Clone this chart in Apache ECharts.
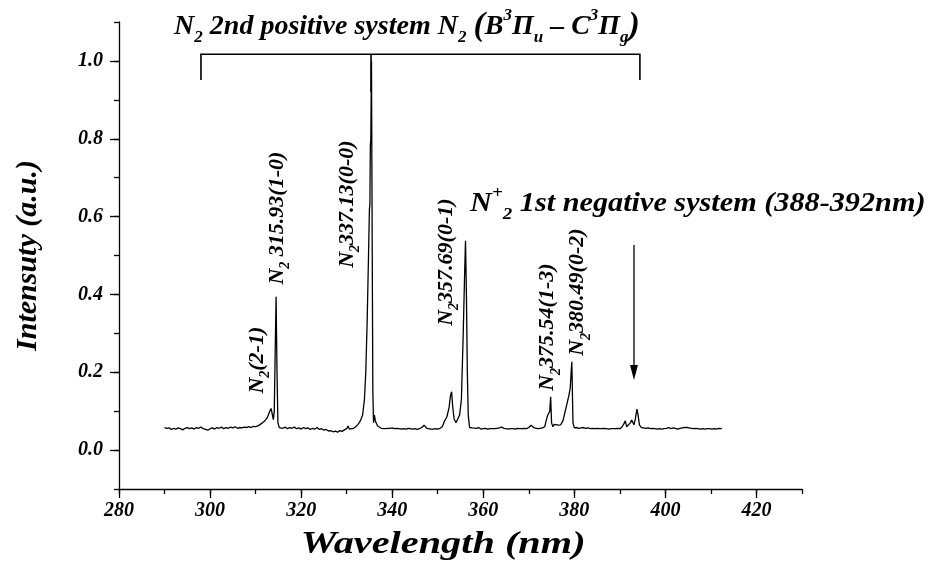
<!DOCTYPE html>
<html><head><meta charset="utf-8">
<script src="https://cdn.jsdelivr.net/npm/echarts@6/dist/echarts.min.js"></script>
<style>html,body{margin:0;padding:0;background:#fff}#c{width:933px;height:583px}</style>
</head><body><div id="c"></div>
<script>
// ---- data ----
const wavelengths = [
290.0,290.5,291.0,291.5,292.0,292.5,293.0,293.5,294.0,294.5,295.0,295.5,296.0,296.5,297.0,297.5,298.0,298.5,299.0,299.5,
300.0,300.5,301.0,301.5,302.0,302.5,303.0,303.5,304.0,304.5,305.0,305.5,306.0,306.5,307.0,307.5,308.0,308.5,309.0,309.5,
310.0,310.5,311.0,311.5,312.0,312.5,312.8,313.1,313.4,313.7,313.9,314.1,314.3,314.5,314.7,314.9,315.2,315.5,316.0,316.5,
317.0,317.5,318.0,318.5,319.0,319.5,320.0,320.5,321.0,321.5,322.0,322.5,323.0,323.5,324.0,324.5,325.0,325.5,326.0,326.5,
327.0,327.5,328.0,328.5,329.0,329.5,330.0,330.3,330.6,331.0,331.5,332.0,332.5,333.0,333.5,333.9,334.2,334.5,334.8,335.0,
335.1,335.2,335.3,335.45,335.6,335.75,335.9,336.1,336.3,336.5,336.8,337.2,337.6,338.0,338.5,339.0,339.5,340.0,340.5,341.0,
341.5,342.0,342.5,343.0,343.5,344.0,344.5,345.0,345.5,346.0,346.5,347.0,347.3,347.6,348.0,348.5,349.0,349.5,350.0,350.5,
351.0,351.5,352.0,352.5,352.8,353.05,353.3,353.6,354.0,354.4,354.8,355.2,355.6,355.9,356.1,356.3,356.5,356.7,357.0,357.3,
357.6,358.0,358.5,359.0,359.5,360.0,360.5,361.0,361.5,362.0,362.5,363.0,363.5,364.0,364.5,365.0,365.5,366.0,366.5,367.0,
367.5,368.0,368.5,369.0,369.5,370.0,370.5,370.8,371.2,371.5,372.0,372.5,373.0,373.5,373.8,374.1,374.4,374.6,374.8,375.0,
375.3,375.6,376.0,376.5,377.0,377.5,378.0,378.4,378.8,379.1,379.3,379.45,379.7,380.0,380.5,381.0,381.5,382.0,382.5,383.0,
383.5,384.0,384.5,385.0,385.5,386.0,386.5,387.0,387.5,388.0,388.5,389.0,389.5,390.0,390.5,390.9,391.2,391.5,391.9,392.3,
392.6,392.9,393.1,393.4,393.75,394.0,394.3,394.7,395.2,395.7,396.2,396.7,397.2,397.7,398.2,398.7,399.2,399.7,400.2,400.7,
401.2,401.7,402.2,402.7,403.2,403.7,404.2,404.7,405.2,405.7,406.2,406.7,407.2,407.7,408.2,408.7,409.2,409.7,410.2,410.7,
411.2,411.7,412.0,412.4
];
const intensities = [
0.058,0.056,0.057,0.053,0.056,0.054,0.057,0.055,0.052,0.056,0.058,0.055,0.057,0.054,0.058,0.056,0.059,0.055,0.053,0.051,
0.055,0.057,0.054,0.058,0.056,0.059,0.055,0.058,0.056,0.059,0.057,0.060,0.056,0.058,0.057,0.059,0.058,0.060,0.058,0.061,
0.060,0.062,0.066,0.070,0.075,0.082,0.090,0.100,0.107,0.090,0.078,0.100,0.250,0.394,0.200,0.070,0.058,0.062,0.056,0.059,
0.055,0.058,0.056,0.059,0.055,0.057,0.054,0.058,0.055,0.057,0.053,0.056,0.054,0.058,0.053,0.055,0.051,0.053,0.049,0.050,
0.047,0.049,0.046,0.050,0.048,0.052,0.055,0.062,0.054,0.058,0.056,0.060,0.066,0.075,0.090,0.130,0.200,0.330,0.500,0.620,
0.630,0.780,0.800,1.000,0.550,0.150,0.070,0.090,0.075,0.080,0.062,0.058,0.056,0.057,0.055,0.056,0.056,0.057,0.055,0.056,
0.055,0.054,0.055,0.054,0.056,0.055,0.054,0.055,0.053,0.055,0.058,0.064,0.062,0.056,0.055,0.054,0.054,0.055,0.054,0.056,
0.060,0.075,0.085,0.110,0.140,0.150,0.110,0.080,0.070,0.075,0.090,0.130,0.300,0.450,0.538,0.400,0.200,0.090,0.058,0.062,
0.057,0.060,0.056,0.058,0.054,0.055,0.056,0.054,0.055,0.055,0.055,0.056,0.057,0.059,0.056,0.055,0.054,0.055,0.055,0.054,
0.056,0.055,0.055,0.056,0.055,0.058,0.064,0.060,0.057,0.056,0.055,0.056,0.057,0.060,0.075,0.088,0.085,0.100,0.137,0.070,
0.060,0.066,0.062,0.064,0.065,0.075,0.100,0.120,0.140,0.160,0.200,0.227,0.070,0.057,0.058,0.056,0.057,0.058,0.056,0.057,
0.055,0.056,0.055,0.056,0.055,0.055,0.056,0.055,0.054,0.055,0.055,0.055,0.056,0.055,0.060,0.068,0.075,0.060,0.062,0.070,
0.077,0.080,0.065,0.080,0.105,0.090,0.065,0.058,0.057,0.056,0.057,0.055,0.056,0.055,0.054,0.055,0.054,0.055,0.056,0.058,
0.055,0.057,0.056,0.054,0.056,0.057,0.058,0.058,0.057,0.056,0.055,0.056,0.055,0.054,0.055,0.054,0.055,0.055,0.054,0.055,
0.054,0.056,0.058,0.055
];
const xTickLabels = [280, 300, 320, 340, 360, 380, 400, 420];
const yTickLabels = [0.0, 0.2, 0.4, 0.6, 0.8, 1.0];

// annotations (anchored in data coordinates)
const peakLabelTexts = [
  '{t|N}{sub|2}{t|(2-1)}',
  '{t|N}{sub|2}{t| 315.93(1-0)}',
  '{t|N}{sub|2}{t|337.13(0-0)}',
  '{t|N}{sub|2}{t|357.69(0-1)}',
  '{t|N}{sub|2}{t|375.54(1-3)}',
  '{t|N}{sub|2}{t|380.49(0-2)}'
];
const peakLabelWl  = [310.3, 314.7, 330.1, 351.8, 374.1, 380.7];
const peakLabelVal = [0.231, 0.596, 0.632, 0.483, 0.316, 0.406];
const titleText = '{t|N}{sub|2}{t| 2nd positive system N}{sub|2}{t| }{p|(}{t|B}{sup|3}{t|Π}{sub|u}{t| – C}{sup|3}{t|Π}{sub|g}{p|)}';
const titleAnchor = [292.1, 1.089];
const negText = '{t|N}{sup|+}{sub|2}{t| 1st negative system (388-392nm)}';
const negAnchor = [357.1, 0.632];
const xTitle = 'Wavelength (nm)';
const xTitleAnchor = [351.2, -0.244];
const arrowWl = 393.1, arrowTop = 0.527, arrowTip = 0.18;
const bracketWl = [298.0, 335.35, 394.4];
const bracketTop = 1.017, bracketSide = 0.951, bracketMid = 0.92;

// ---- chart ----
const FONT = "'Liberation Serif','Times New Roman',serif";
const chart = echarts.init(document.getElementById('c'));
const lblStyle = {fontFamily: FONT, fontWeight: 'bold', fontStyle: 'italic', color: '#000'};
const near = (arr, v) => arr.some(a => Math.abs(a - v) < 1e-6);

chart.setOption({
  animation: false,
  backgroundColor: '#fff',
  grid: {left: 119, right: 131, top: 22, bottom: 94},
  xAxis: [{
    type: 'value', min: 280, max: 430, interval: 10,
    axisLine: {onZero: false, lineStyle: {color: '#000', width: 1.3}},
    axisTick: {length: 5, lineStyle: {color: '#000', width: 1.3}},
    splitLine: {show: false},
    axisLabel: Object.assign({fontSize: 20, margin: 12,
      formatter: v => near(xTickLabels, v) ? String(v) : ''}, lblStyle)
  }, {
    type: 'value', min: 280, max: 430, interval: 10, position: 'bottom',
    axisLine: {show: false, onZero: false},
    axisTick: {length: 9, customValues: xTickLabels, lineStyle: {color: '#000', width: 1.3}},
    axisLabel: {show: false}, splitLine: {show: false}
  }],
  yAxis: [{
    type: 'value', min: -0.1, max: 1.1, interval: 0.1,
    axisLine: {show: true, onZero: false, lineStyle: {color: '#000', width: 1.3}},
    axisTick: {show: true, length: 5, lineStyle: {color: '#000', width: 1.3}},
    splitLine: {show: false},
    axisLabel: Object.assign({fontSize: 20, margin: 16,
      formatter: v => near(yTickLabels, v) ? v.toFixed(1) : ''}, lblStyle),
    name: 'Intensuty (a.u.)', nameLocation: 'middle', nameGap: 76, nameRotate: 90,
    nameTextStyle: Object.assign({fontSize: 30}, lblStyle)
  }, {
    type: 'value', min: -0.1, max: 1.1, interval: 0.1, position: 'left',
    axisLine: {show: false, onZero: false},
    axisTick: {show: true, length: 9, customValues: yTickLabels, lineStyle: {color: '#000', width: 1.3}},
    axisLabel: {show: false}, splitLine: {show: false}
  }],
  series: [{
    type: 'line', xAxisIndex: 0, yAxisIndex: 0,
    data: wavelengths.map((w, i) => [w, intensities[i]]),
    showSymbol: false, symbol: 'none',
    lineStyle: {color: '#000', width: 1.3}
  }]
});

function rich(size) {
  const base = {fontFamily: FONT, fontWeight: 'bold', fontStyle: 'italic', fill: '#000'};
  return {
    t: Object.assign({fontSize: size, lineHeight: Math.round(size * 1.4)}, base),
    sub: Object.assign({fontSize: Math.round(size * 0.62), verticalAlign: 'bottom'}, base),
    sup: Object.assign({fontSize: Math.round(size * 0.62), verticalAlign: 'top'}, base),
    p: Object.assign({fontSize: Math.round(size * 1.2), lineHeight: Math.round(size * 1.4)}, base)
  };
}
const px = (wl, v) => chart.convertToPixel({xAxisIndex: 0, yAxisIndex: 0}, [wl, v]);

const graphics = [];
peakLabelTexts.forEach((txt, i) => {
  const p = px(peakLabelWl[i], peakLabelVal[i]);
  graphics.push({type: 'text', x: p[0], y: p[1], rotation: Math.PI / 2,
    style: {text: txt, rich: rich(22), align: 'center', verticalAlign: 'middle'}});
});
const tp = px(titleAnchor[0], titleAnchor[1]);
graphics.push({type: 'text', x: tp[0], y: tp[1],
  style: {text: titleText, rich: rich(28), align: 'left', verticalAlign: 'middle'}});
const np = px(negAnchor[0], negAnchor[1]);
graphics.push({type: 'text', x: np[0], y: np[1], scaleX: 1.12,
  style: {text: negText, rich: rich(27), align: 'left', verticalAlign: 'middle'}});
const xp = px(xTitleAnchor[0], xTitleAnchor[1]);
graphics.push({type: 'text', x: xp[0], y: xp[1], scaleX: 1.3,
  style: {text: xTitle, fontSize: 31, fontFamily: FONT, fontWeight: 'bold', fontStyle: 'italic',
          fill: '#000', align: 'center', verticalAlign: 'middle'}});
// arrow
const a0 = px(arrowWl, arrowTop), a1 = px(arrowWl, arrowTip);
graphics.push({type: 'line', shape: {x1: a0[0], y1: a0[1], x2: a1[0], y2: a1[1] - 12},
  style: {stroke: '#000', lineWidth: 1.3}});
graphics.push({type: 'polygon', shape: {points: [[a1[0] - 4, a1[1] - 15], [a1[0] + 4, a1[1] - 15], [a1[0], a1[1]]]},
  style: {fill: '#000'}});
// bracket
const bl = px(bracketWl[0], bracketTop), br = px(bracketWl[2], bracketTop);
const bls = px(bracketWl[0], bracketSide), brs = px(bracketWl[2], bracketSide);
const bm = px(bracketWl[1], bracketTop), bmb = px(bracketWl[1], bracketMid);
graphics.push({type: 'polyline', shape: {points: [[bls[0], bls[1]], [bl[0], bl[1]], [br[0], br[1]], [brs[0], brs[1]]]},
  style: {stroke: '#000', lineWidth: 1.6, fill: null}});
graphics.push({type: 'line', shape: {x1: bm[0], y1: bm[1], x2: bmb[0], y2: bmb[1]},
  style: {stroke: '#000', lineWidth: 1.6}});
chart.setOption({graphic: graphics});
</script>
</body></html>
